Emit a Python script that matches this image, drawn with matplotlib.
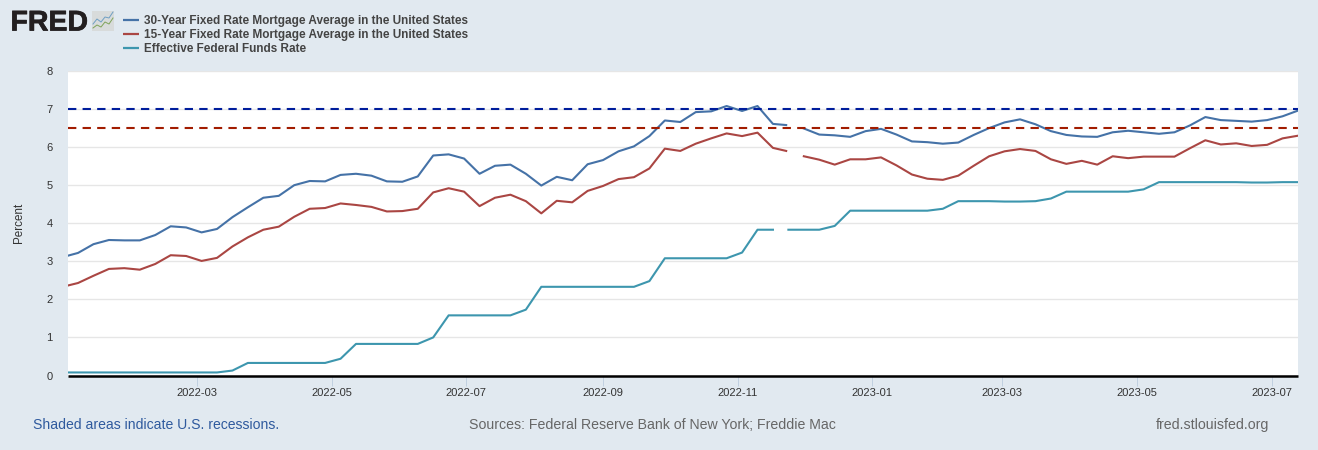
import pandas as pd
import matplotlib
matplotlib.use("Agg")
import matplotlib.pyplot as plt
import matplotlib.patheffects as pe
from matplotlib.lines import Line2D
from matplotlib.patches import FancyBboxPatch

W, H = 1318, 450

# weekly dates, the Thanksgiving week mortgage reading comes out a day early
dates = pd.date_range("2021-12-30", "2023-07-13", freq="7D").union([pd.Timestamp("2022-11-23")])

rate_30y = [3.11, 3.22, 3.45, 3.56, 3.55, 3.55, 3.69, 3.92, 3.89, 3.76, 3.85, 4.16, 4.42, 4.67, 4.72,
            5.00, 5.11, 5.10, 5.27, 5.30, 5.25, 5.10, 5.09, 5.23, 5.78, 5.81, 5.70, 5.30, 5.51, 5.54,
            5.30, 4.99, 5.22, 5.13, 5.55, 5.66, 5.89, 6.02, 6.29, 6.70, 6.66, 6.92, 6.94, 7.08, 6.95,
            7.08, 6.61, 6.58, None, 6.49, 6.33, 6.31, 6.27, 6.42, 6.48, 6.33, 6.15, 6.13, 6.09, 6.12,
            6.32, 6.50, 6.65, 6.73, 6.60, 6.42, 6.32, 6.28, 6.27, 6.39, 6.43, 6.39, 6.35, 6.39, 6.57,
            6.79, 6.71, 6.69, 6.67, 6.71, 6.81, 6.96]

rate_15y = [2.33, 2.43, 2.62, 2.80, 2.82, 2.78, 2.93, 3.16, 3.14, 3.01, 3.09, 3.39, 3.63, 3.83, 3.91,
            4.17, 4.38, 4.40, 4.52, 4.48, 4.43, 4.31, 4.32, 4.38, 4.81, 4.92, 4.83, 4.45, 4.67, 4.75,
            4.58, 4.26, 4.59, 4.55, 4.85, 4.98, 5.16, 5.21, 5.44, 5.96, 5.90, 6.09, 6.23, 6.36, 6.29,
            6.38, 5.98, 5.90, None, 5.76, 5.67, 5.54, 5.68, 5.68, 5.73, 5.52, 5.28, 5.17, 5.14, 5.25,
            5.51, 5.76, 5.89, 5.95, 5.90, 5.68, 5.56, 5.64, 5.54, 5.76, 5.71, 5.75, 5.75, 5.75, 5.97,
            6.18, 6.07, 6.10, 6.03, 6.06, 6.23, 6.30]

fed_funds = [0.08, 0.08, 0.08, 0.08, 0.08, 0.08, 0.08, 0.08, 0.08, 0.08, 0.08, 0.13, 0.33, 0.33, 0.33,
             0.33, 0.33, 0.33, 0.44, 0.83, 0.83, 0.83, 0.83, 0.83, 1.00, 1.58, 1.58, 1.58, 1.58, 1.58,
             1.73, 2.33, 2.33, 2.33, 2.33, 2.33, 2.33, 2.33, 2.48, 3.08, 3.08, 3.08, 3.08, 3.08, 3.23,
             3.83, 3.83, None, 3.83, 3.83, 3.83, 3.93, 4.33, 4.33, 4.33, 4.33, 4.33, 4.33, 4.38, 4.58,
             4.58, 4.58, 4.57, 4.57, 4.58, 4.65, 4.83, 4.83, 4.83, 4.83, 4.83, 4.89, 5.08, 5.08, 5.08,
             5.08, 5.08, 5.08, 5.07, 5.07, 5.08, 5.08]

series_names = ["30-Year Fixed Rate Mortgage Average in the United States",
                "15-Year Fixed Rate Mortgage Average in the United States",
                "Effective Federal Funds Rate"]
series_colors = ["#4572a7", "#aa4643", "#3d96ae"]

x_ticks = ["2022-03", "2022-05", "2022-07", "2022-09", "2022-11",
           "2023-01", "2023-03", "2023-05", "2023-07"]
y_ticks = [0, 1, 2, 3, 4, 5, 6, 7, 8]

level_30y = 7.0
level_15y = 6.5

plt.rcParams["font.family"] = ["Liberation Sans", "DejaVu Sans"]


def px(x, y):
    # picture pixels to figure fractions
    return x / W, 1 - y / H


def add_logo(fig):
    fig.text(*px(10.5, 30.5), "FRED", ha="left", va="baseline", fontsize=20.5, fontweight="bold", color="#231f20",
             path_effects=[pe.withStroke(linewidth=0.5, foreground="#231f20")])
    # small chart icon next to the name
    x0, y0 = px(92, 31)
    box = FancyBboxPatch((x0, y0), 22 / W, 20 / H, boxstyle="square,pad=0",
                         transform=fig.transFigure, facecolor="#d8dbdb", edgecolor="none")
    fig.add_artist(box)
    fig.add_artist(Line2D([x / W for x in [93, 97, 101, 105, 109, 113]],
                          [1 - y / H for y in [24, 19, 22, 17, 18, 12]], color="#6f9fc4", lw=0.7))
    fig.add_artist(Line2D([x / W for x in [93, 97, 101, 105, 109, 113]],
                          [1 - y / H for y in [28, 25, 27, 22, 24, 18]], color="#7fa35a", lw=0.7))


def main():
    fig = plt.figure(figsize=(W / 100, H / 100), dpi=100, facecolor="#e1e9f0")
    ax = fig.add_axes([68 / W, 1 - 375.5 / H, (1298 - 68) / W, (375.5 - 71) / H], facecolor="white")

    df = pd.DataFrame({"r30": rate_30y, "r15": rate_15y, "ff": fed_funds}, index=dates, dtype=float)

    for col, color in zip(["r30", "r15", "ff"], series_colors):
        ax.plot(df.index, df[col], color=color, lw=1.5, zorder=3, solid_joinstyle="round")

    # target levels
    ax.axhline(level_30y, color="#001d9c", lw=1.5, dashes=(4, 3), dash_capstyle="butt", zorder=4)
    ax.axhline(level_15y, color="#a21c00", lw=1.5, dashes=(4, 3), dash_capstyle="butt", zorder=4)

    ax.set_xlim(pd.Timestamp("2022-01-01 11:00"), pd.Timestamp("2023-07-13"))
    ax.set_ylim(0, 8)
    ax.set_yticks(y_ticks)
    ax.set_xticks(pd.to_datetime([t + "-01" for t in x_ticks]))
    ax.set_xticklabels(x_ticks)
    ax.grid(axis="y", color="#e6e6e6", lw=1.0, zorder=1)
    ax.set_axisbelow(True)

    for side in ["top", "left", "right"]:
        ax.spines[side].set_visible(False)
    ax.spines["bottom"].set_color("black")
    ax.spines["bottom"].set_linewidth(1.8)
    ax.spines["bottom"].set_capstyle("butt")
    ax.spines["bottom"].set_zorder(5)

    ax.tick_params(axis="x", length=7.2, width=0.7, color="#c0d0e0", pad=1.5, labelsize=8, labelcolor="#333333")
    ax.tick_params(axis="y", length=0, pad=11, labelsize=8, labelcolor="#333333")
    fig.text(*px(19, 223), "Percent", rotation=90, ha="center", va="center", fontsize=8.4, color="#333333")

    # legend
    for y, name, color in zip([20, 34, 48], series_names, series_colors):
        x0, yf = px(123, y)
        x1, _ = px(139, y)
        fig.add_artist(Line2D([x0, x1], [yf, yf], color=color, lw=1.6, solid_capstyle="butt"))
        fig.text(px(144, 0)[0], px(0, y + 4)[1], name, ha="left", va="baseline", fontsize=8.5,
                 fontweight="bold", color="#444444")

    add_logo(fig)

    # footer
    fig.text(*px(33, 425), "Shaded areas indicate U.S. recessions.", ha="left", va="center", fontsize=10.1, color="#2f5a9e")
    fig.text(*px(469, 425), "Sources: Federal Reserve Bank of New York; Freddie Mac", ha="left", va="center", fontsize=10.15, color="#666666")
    fig.text(*px(1156, 425), "fred.stlouisfed.org", ha="left", va="center", fontsize=10.15, color="#666666")

    fig.savefig("out.png", dpi=100, facecolor=fig.get_facecolor())
    print("Done")


if __name__ == "__main__":
    main()
